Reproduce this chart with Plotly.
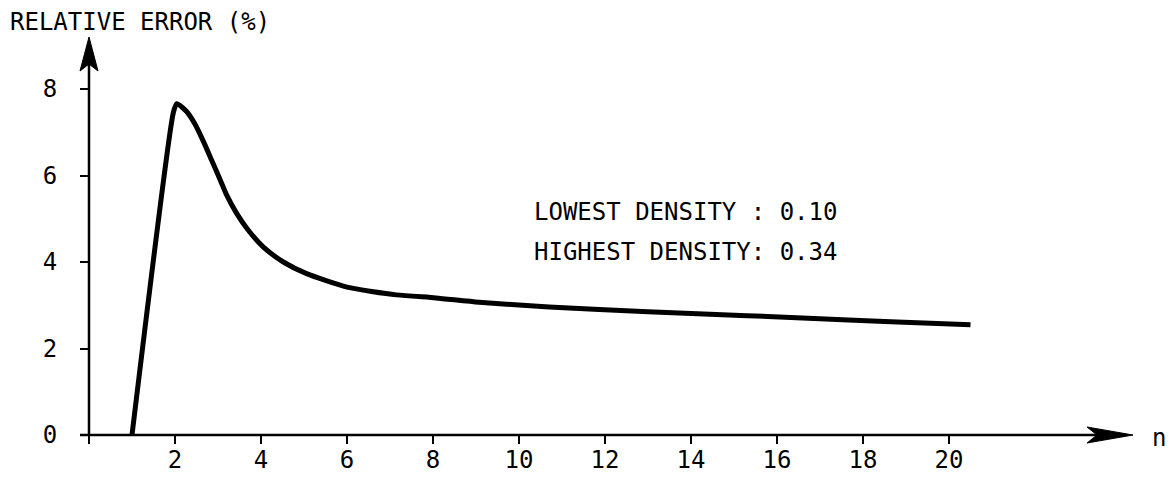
import plotly.graph_objects as go

# Data
n_vals = [1.0, 1.96, 2.04, 2.27, 2.47, 2.66, 2.85, 3.05, 3.20, 3.43, 3.70, 4.05,
          4.52, 5.06, 6.0, 7.15, 8.07, 9.07, 10.7, 13.0, 15.3, 17.66, 18.8, 20.5]
rel_err = [0.0, 7.45, 7.66, 7.48, 7.18, 6.79, 6.36, 5.90, 5.55, 5.13, 4.74, 4.35,
           4.0, 3.73, 3.42, 3.24, 3.17, 3.07, 2.96, 2.85, 2.76, 2.66, 2.61, 2.55]

x_ticks = [0, 2, 4, 6, 8, 10, 12, 14, 16, 18, 20]
x_tick_text = ["", "2", "4", "6", "8", "10", "12", "14", "16", "18", "20"]
y_ticks = [0, 2, 4, 6, 8]
y_tick_text = ["0", "2", "4", "6", "8"]

y_title = "RELATIVE ERROR (%)"
x_title = "n"
note_lines = ["LOWEST DENSITY : 0.10", "HIGHEST DENSITY: 0.34"]

FONT = "DejaVu Sans Mono, Liberation Mono, monospace"
FS = 24

# page has an 8px body margin, so figure pixel = screen pixel - 8
W, H = 1159, 469
ORX, ORY = 81, 427          # origin in figure pixels
TIPX, TIPY = 1125, 29       # arrow tips in figure pixels
SX, SY = 43.0, 43.25        # pixels per unit
ML, MT = ORX, TIPY
MR, MB = W - TIPX, H - ORY
pw, ph = W - ML - MR, H - MT - MB
x_hi = pw / SX
y_hi = ph / SY

def px_x(p):
    return (p - ML) / pw

def px_y(p):
    return (H - MB - p) / ph

fig = go.Figure()
fig.add_trace(go.Scatter(
    x=n_vals, y=rel_err, mode="lines",
    line=dict(color="black", width=5, shape="spline", smoothing=0.6),
    hoverinfo="skip", showlegend=False, cliponaxis=False,
))

AX = dict(color="black", width=2.5)
# axis lines (paper coordinates, unclipped)
fig.add_shape(type="line", xref="paper", yref="paper", x0=px_x(ORX - 9), y0=0,
              x1=px_x(TIPX - 30), y1=0, line=AX, layer="above")
fig.add_shape(type="line", xref="paper", yref="paper", x0=0, y0=px_y(ORY + 1),
              x1=0, y1=px_y(TIPY + 24), line=AX, layer="above")
# arrowheads (pixel-sized, anchored at tips)
fig.add_shape(type="path", xref="paper", yref="paper", xsizemode="pixel", ysizemode="pixel",
              xanchor=1, yanchor=0,
              path="M 0 0 L -46 8 L -36 0 L -46 -8 Z",
              fillcolor="black", line=dict(color="black", width=1), layer="above")
fig.add_shape(type="path", xref="paper", yref="paper", xsizemode="pixel", ysizemode="pixel",
              xanchor=0, yanchor=1,
              path="M 0 0 L -9 -34 L 0 -27 L 9 -34 Z",
              fillcolor="black", line=dict(color="black", width=1), layer="above")

fig.add_annotation(x=px_x(0), y=px_y(14), xref="paper", yref="paper", text=y_title,
                   showarrow=False, xanchor="left", yanchor="middle",
                   font=dict(family=FONT, size=FS, color="black"))
fig.add_annotation(x=px_x(1151), y=px_y(430), xref="paper", yref="paper", text=x_title,
                   showarrow=False, xanchor="center", yanchor="middle",
                   font=dict(family=FONT, size=FS, color="black"))
for i, line in enumerate(note_lines):
    fig.add_annotation(x=px_x(524), y=px_y(204 + 40 * i), xref="paper", yref="paper",
                       text=line, showarrow=False, xanchor="left", yanchor="middle",
                       font=dict(family=FONT, size=FS, color="black"))

fig.update_layout(
    width=W, height=H,
    margin=dict(l=ML, r=MR, t=MT, b=MB, autoexpand=False),
    paper_bgcolor="white", plot_bgcolor="white",
    font=dict(family=FONT, size=FS, color="black"),
    xaxis=dict(range=[0, x_hi], showgrid=False, zeroline=False, showline=False,
               tickmode="array", tickvals=x_ticks, ticktext=x_tick_text,
               ticks="outside", ticklen=8, tickwidth=2, tickcolor="black",
               ticklabelstandoff=-5, automargin=False),
    yaxis=dict(range=[0, y_hi], showgrid=False, zeroline=False, showline=False,
               tickmode="array", tickvals=y_ticks, ticktext=y_tick_text,
               ticks="outside", ticklen=8, tickwidth=2, tickcolor="black",
               ticklabelstandoff=18, automargin=False),
)

fig.write_html("out.html")
